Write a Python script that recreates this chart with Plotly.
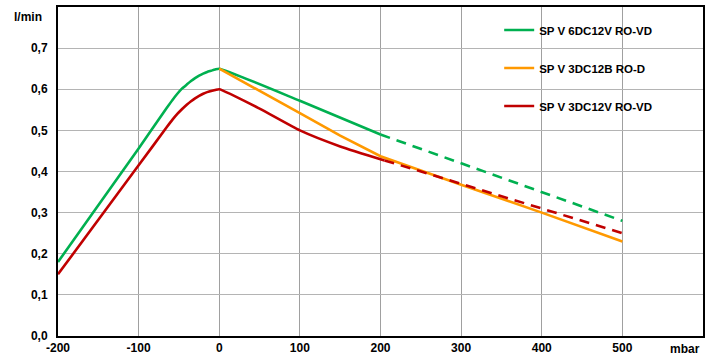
import plotly.graph_objects as go

# Data
names = ["SP V 6DC12V RO-VD", "SP V 3DC12B RO-D", "SP V 3DC12V RO-VD"]
colors = ["#00B050", "#FF9900", "#C00000"]

green_x_solid = [-200, -100, -65, -58, -52, -46, -40, -35, -30, -25, -20, -15, -10, -5, 0, 100, 200]
green_y_solid = [0.18, 0.456, 0.555, 0.574, 0.589, 0.602, 0.612, 0.620, 0.627, 0.633, 0.638, 0.642, 0.645, 0.648, 0.65, 0.572, 0.49]
green_x_dash = [200, 500]
green_y_dash = [0.49, 0.28]

orange_x = [0, 50, 100, 150, 200, 300, 400, 500]
orange_y = [0.65, 0.597, 0.542, 0.487, 0.437, 0.368, 0.30, 0.23]

red_x_solid = [-200, -100, -65, -58, -52, -46, -40, -35, -30, -25, -20, -15, -10, -5, 0, 50, 100, 150, 205]
red_y_solid = [0.15, 0.415, 0.508, 0.526, 0.540, 0.552, 0.563, 0.571, 0.578, 0.584, 0.589, 0.593, 0.596, 0.598, 0.60, 0.553, 0.50, 0.461, 0.427]
red_x_dash = [205, 500]
red_y_dash = [0.427, 0.25]

x_ticks = [-200, -100, 0, 100, 200, 300, 400, 500]
y_ticks = [0.0, 0.1, 0.2, 0.3, 0.4, 0.5, 0.6, 0.7]

fig = go.Figure()
lw = 2.6
fig.add_trace(go.Scatter(x=green_x_solid, y=green_y_solid, mode="lines", name=names[0],
                         line=dict(color=colors[0], width=lw, shape="spline", smoothing=0.5), legendgroup="g"))
fig.add_trace(go.Scatter(x=green_x_dash, y=green_y_dash, mode="lines", showlegend=False,
                         line=dict(color=colors[0], width=lw, dash="10px,7px"), legendgroup="g"))
fig.add_trace(go.Scatter(x=orange_x, y=orange_y, mode="lines", name=names[1],
                         line=dict(color=colors[1], width=lw), legendgroup="o"))
fig.add_trace(go.Scatter(x=red_x_solid, y=red_y_solid, mode="lines", name=names[2],
                         line=dict(color=colors[2], width=lw, shape="spline", smoothing=0.5), legendgroup="r"))
fig.add_trace(go.Scatter(x=red_x_dash, y=red_y_dash, mode="lines", showlegend=False,
                         line=dict(color=colors[2], width=lw, dash="10px,7px"), legendgroup="r"))

ff = "Liberation Sans, Arial, sans-serif"

fig.update_layout(
    width=710, height=363,
    margin=dict(l=58, r=7, t=5, b=27),
    paper_bgcolor="white", plot_bgcolor="white",
    separators=",.",
    showlegend=True,
    font=dict(family=ff, size=12, color="#000000"),
    legend=dict(x=0.684, y=0.974, xanchor="left", yanchor="top",
                tracegroupgap=19, bgcolor="rgba(0,0,0,0)",
                font=dict(family=ff, size=11.5, color="#000000", weight="bold")),
    xaxis=dict(range=[-200, 600], tickvals=x_ticks, ticktext=[str(v) for v in x_ticks],
               showgrid=True, gridcolor="#A0A0A0", gridwidth=1,
               showline=True, linecolor="black", linewidth=2, mirror=True,
               ticks="", zeroline=False,
               tickfont=dict(family=ff, size=12, weight="bold")),
    yaxis=dict(range=[0, 0.8], tickvals=y_ticks, ticktext=[f"{v:.1f}".replace(".", ",") for v in y_ticks],
               showgrid=True, gridcolor="#B4B4B4", gridwidth=1,
               showline=True, linecolor="black", linewidth=2, mirror=True,
               ticks="", zeroline=False, ticklabelstandoff=6,
               tickfont=dict(family=ff, size=12, weight="bold")),
    annotations=[
        dict(text="l/min", xref="paper", yref="paper", x=-0.022, y=0.97, xanchor="right", yanchor="middle",
             showarrow=False, font=dict(family=ff, size=12, weight="bold")),
        dict(text="mbar", xref="paper", yref="paper", x=0.972, y=-0.012, xanchor="center", yanchor="top",
             showarrow=False, font=dict(family=ff, size=12, weight="bold")),
    ],
)

fig.write_html("out.html", config={"displayModeBar": False},
               post_script="document.body.style.margin='0';")
